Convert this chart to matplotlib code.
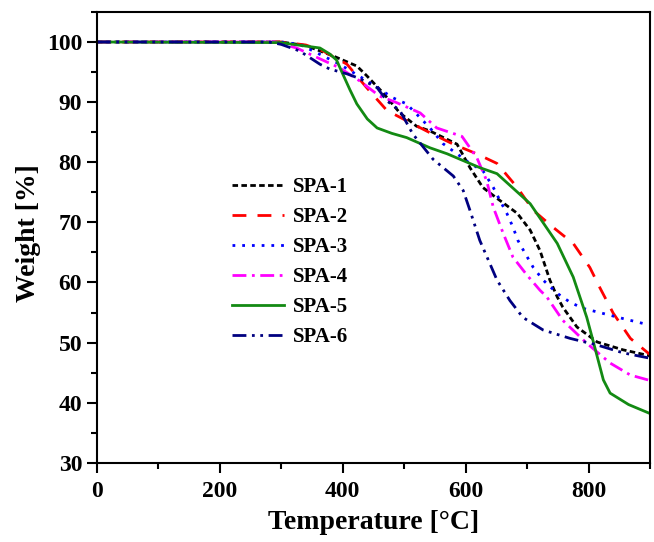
import matplotlib
matplotlib.use('Agg')
import matplotlib.pyplot as plt
from matplotlib.ticker import MultipleLocator

plt.rcParams['font.family'] = ['Liberation Serif', 'DejaVu Serif']
plt.rcParams['font.weight'] = 'bold'

# TGA curves (temperature in degC, weight in %)
T1 = [0, 300, 340, 384, 423, 439, 466, 493, 520, 542, 586, 607, 628, 651, 684, 705, 721, 737, 749, 758, 781, 814, 856, 900]
W1 = [100, 100, 99.4, 97.7, 96, 94.4, 91.5, 88.2, 86, 85.2, 83, 79.1, 75.8, 74, 71.5, 68.7, 65.3, 60.4, 57.6, 55.9, 52.6, 50.1, 48.8, 47.8]

T2 = [0, 300, 340, 368, 407, 439, 472, 504, 542, 580, 618, 651, 684, 710, 742, 775, 802, 819, 840, 868, 900]
W2 = [100, 100, 99.5, 98.5, 96.3, 92.4, 88.6, 86.9, 84.9, 83, 81.4, 79.8, 75.8, 72, 69.2, 66.5, 62.5, 59, 54.9, 50.7, 48]

T3 = [0, 300, 330, 352, 395, 440, 482, 504, 526, 542, 563, 586, 607, 628, 645, 656, 667, 677, 685, 697, 710, 726, 749, 770, 791, 814, 856, 900]
W3 = [100, 100, 99.6, 98.5, 96.3, 93.5, 90.7, 89.7, 87.4, 85.7, 83.1, 81.4, 79.8, 78.6, 75.8, 73.6, 71.5, 69.2, 67, 64.8, 62.5, 60.4, 58.2, 56.7, 55.7, 55.1, 54, 52.9]

T4 = [0, 290, 325, 363, 395, 428, 460, 488, 526, 553, 594, 618, 634, 645, 661, 677, 700, 721, 732, 758, 797, 835, 868, 900]
W4 = [100, 100, 99, 97.2, 95.7, 93.5, 91, 89.9, 88.2, 85.7, 84.3, 80.8, 77, 72.5, 68.2, 64.2, 61.2, 58.7, 57.6, 53.7, 49.9, 46.6, 44.6, 43.7]

T5 = [0, 298, 363, 379, 390, 400, 412, 423, 440, 456, 480, 504, 542, 570, 623, 651, 705, 749, 775, 797, 807, 824, 835, 865, 900]
W5 = [100, 99.9, 99, 98, 97, 94.7, 92, 89.7, 87.2, 85.7, 84.8, 84.1, 82.4, 81.4, 79.1, 78.1, 73.1, 66.5, 60.9, 54.2, 50.4, 43.8, 41.6, 39.7, 38.2]

T6 = [0, 280, 300, 330, 363, 379, 407, 428, 456, 472, 493, 514, 547, 580, 596, 607, 623, 640, 651, 672, 693, 726, 770, 814, 856, 900]
W6 = [100, 100, 99.6, 98.5, 96.3, 95.5, 94.7, 93.9, 92.4, 90.2, 88.6, 84.7, 80.5, 77.7, 75.3, 72, 67, 63, 60.4, 57, 54.2, 52.1, 50.7, 49.6, 48.3, 47.4]

labels = ['SPA-1', 'SPA-2', 'SPA-3', 'SPA-4', 'SPA-5', 'SPA-6']
colors = ['black', '#ff0000', '#0000ff', '#ff00ff', '#138a13', '#000080']
dashes = [(2, 1.2), (5, 4), (1, 2.5), (5, 2, 1, 2), (), (5, 2, 1, 2, 1, 2)]

fig = plt.figure(figsize=(6.54, 5.42), dpi=100)
ax = fig.add_axes([0.148, 0.146, 0.846, 0.832])

series = [(T1, W1), (T2, W2), (T3, W3), (T4, W4), (T5, W5), (T6, W6)]
for (t, w), lab, c, d in zip(series, labels, colors, dashes):
    line, = ax.plot(t, w, color=c, lw=2, label=lab)
    if d:
        line.set_dashes(d)

ax.set_xlim(0, 900)
ax.set_ylim(30, 105)
ax.xaxis.set_major_locator(MultipleLocator(200))
ax.xaxis.set_minor_locator(MultipleLocator(100))
ax.yaxis.set_major_locator(MultipleLocator(10))
ax.yaxis.set_minor_locator(MultipleLocator(5))
ax.tick_params(which='both', direction='out', width=1.5, labelsize=17, top=False, right=False)
ax.tick_params(which='major', length=7)
ax.tick_params(axis='x', which='major', pad=6)
ax.tick_params(which='minor', length=4)
for s in ax.spines.values():
    s.set_linewidth(1.5)

ax.set_xlabel('Temperature [°C]', fontsize=20, fontweight='bold')
ax.set_ylabel('Weight [%]', fontsize=20, fontweight='bold')
ax.xaxis.set_label_coords(0.5, -0.105)
ax.yaxis.set_label_coords(-0.1, 0.51)

ax.legend(loc='upper left', bbox_to_anchor=(0.23, 0.652), frameon=False,
          fontsize=15, handlelength=2.5, handletextpad=0.4, labelspacing=0.48,
          borderaxespad=0)

fig.savefig('out.png', dpi=100)
